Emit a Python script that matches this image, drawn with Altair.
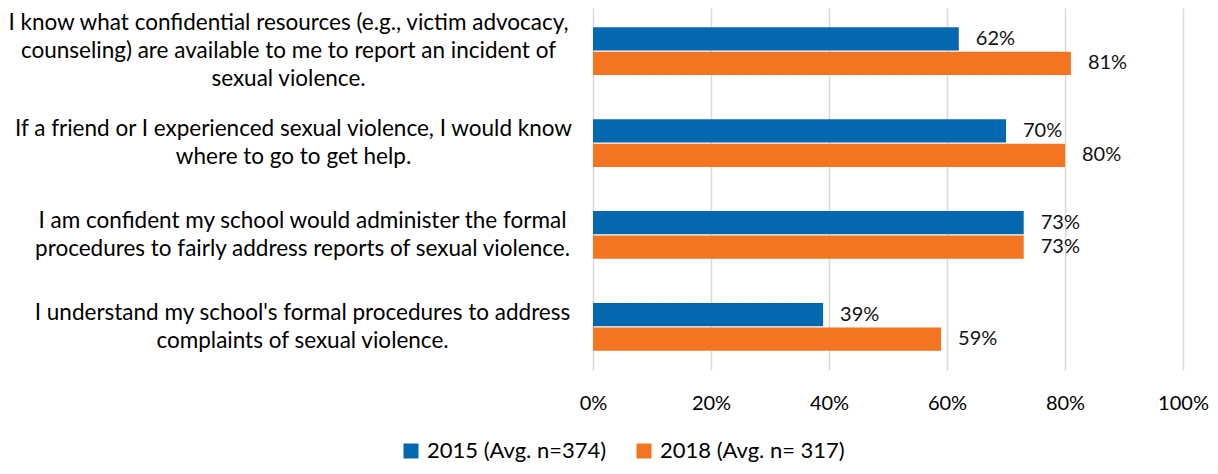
import altair as alt
import pandas as pd

questions = [
    "I know what confidential resources (e.g., victim advocacy,|counseling) are available to me to report an incident of|sexual violence.",
    "If a friend or I experienced sexual violence, I would know|where to go to get help.",
    "I am confident my school would administer the formal|procedures to fairly address reports of sexual violence.",
    "I understand my school's formal procedures to address|complaints of sexual violence.",
]
series = ["2015 (Avg. n=374)", "2018 (Avg. n= 317)"]
values_2015 = [0.62, 0.70, 0.73, 0.39]
values_2018 = [0.81, 0.80, 0.73, 0.59]
colors = ["#0468B1", "#F47521"]
x_ticks = [0, 0.2, 0.4, 0.6, 0.8, 1.0]

rows = []
for q, v in zip(questions, values_2015):
    rows.append({"question": q, "series": series[0], "value": v})
for q, v in zip(questions, values_2018):
    rows.append({"question": q, "series": series[1], "value": v})
df = pd.DataFrame(rows)

FONT = "Lato"

y_enc = alt.Y(
    "question:N",
    sort=questions,
    scale=alt.Scale(paddingInner=0.48, paddingOuter=0.21),
    axis=alt.Axis(
        title=None,
        labelExpr="split(datum.label, '|')",
        labelAlign="center",
        labelBaseline="middle",
        labelPadding={
            "condition": [
                {"test": "indexof(datum.value, 'confidential') >= 0", "value": 305},
                {"test": "indexof(datum.value, 'a friend') >= 0", "value": 300},
            ],
            "value": 291,
        },
        labelOffset={
            "condition": {"test": "indexof(datum.value, 'confidential') >= 0", "value": -28},
            "value": -14,
        },
        labelLimit=700,
        ticks=False,
        domain=False,
        labelFontSize=22.5,
        labelFont=FONT,
        labelColor="#000000",
        labelLineHeight=28,
    ),
)
x_enc = alt.X(
    "value:Q",
    scale=alt.Scale(domain=[0, 1]),
    axis=alt.Axis(
        title=None,
        format=".0%",
        values=x_ticks,
        ticks=False,
        domain=False,
        labelFlush=False,
        labelPadding=23,
        labelFontSize=20,
        labelFont=FONT,
        labelColor="#000000",
        gridColor="#D9D9D9",
        gridWidth=1.5,
    ),
)
yoff = alt.YOffset("series:N", sort=series, scale=alt.Scale(paddingInner=0.05))

bars = alt.Chart(df).mark_bar().encode(
    x=x_enc,
    y=y_enc,
    yOffset=yoff,
    color=alt.Color(
        "series:N",
        sort=series,
        scale=alt.Scale(domain=series, range=colors),
        legend=alt.Legend(
            title=None,
            orient="none",
            legendX=-193,
            legendY=432,
            direction="horizontal",
            symbolType="square",
            symbolSize=225,
            symbolStrokeWidth=0,
            labelFontSize=22,
            labelFont=FONT,
            labelColor="#000000",
            labelLimit=400,
            columnPadding=26,
            labelOffset=5,
        ),
    ),
)

labels = alt.Chart(df).mark_text(
    align="left", baseline="middle", dx=17, fontSize=20, font=FONT, color="#111111"
).encode(
    x="value:Q",
    y=alt.Y("question:N", sort=questions),
    yOffset=yoff,
    text=alt.Text("value:Q", format=".0%"),
)

chart = (
    alt.layer(bars, labels)
    .properties(
        width=590,
        height=362,
        autosize=alt.AutoSizeParams(type="none"),
        padding={"left": 585, "top": 0, "right": 27, "bottom": 95},
    )
    .configure_view(stroke=None)
)

chart.save("out.html", embed_options={"renderer": "svg", "actions": False})
